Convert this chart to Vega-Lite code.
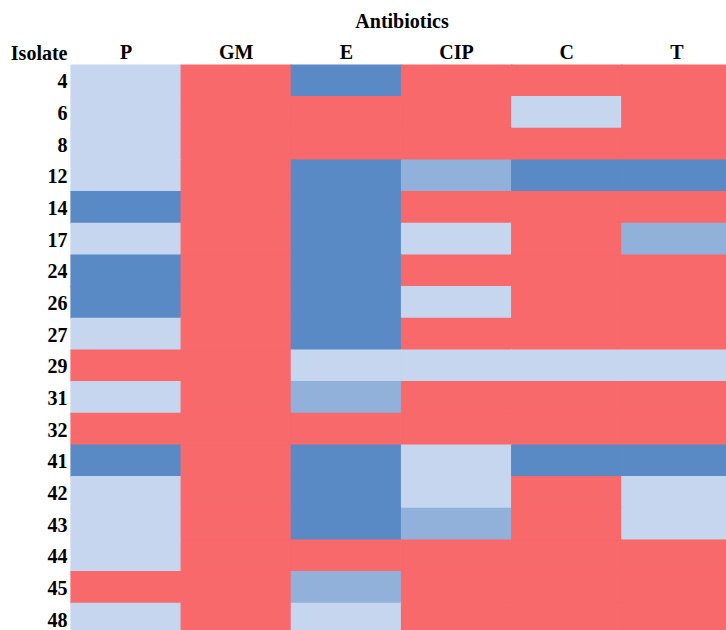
{
  "$schema": "https://vega.github.io/schema/vega-lite/v6.json",
  "width": 661,
  "height": 570,
  "autosize": "none",
  "padding": {"left": 71, "top": 65, "right": 0, "bottom": 0},
  "background": "white",
  "config": {"view": {"stroke": null}, "font": "Liberation Serif"},
  "datasets": {
    "grid": [
      {"isolate": "4", "P": "L", "GM": "R", "E": "D", "CIP": "R", "C": "R", "T": "R"},
      {"isolate": "6", "P": "L", "GM": "R", "E": "R", "CIP": "R", "C": "L", "T": "R"},
      {"isolate": "8", "P": "L", "GM": "R", "E": "R", "CIP": "R", "C": "R", "T": "R"},
      {"isolate": "12", "P": "L", "GM": "R", "E": "D", "CIP": "M", "C": "D", "T": "D"},
      {"isolate": "14", "P": "D", "GM": "R", "E": "D", "CIP": "R", "C": "R", "T": "R"},
      {"isolate": "17", "P": "L", "GM": "R", "E": "D", "CIP": "L", "C": "R", "T": "M"},
      {"isolate": "24", "P": "D", "GM": "R", "E": "D", "CIP": "R", "C": "R", "T": "R"},
      {"isolate": "26", "P": "D", "GM": "R", "E": "D", "CIP": "L", "C": "R", "T": "R"},
      {"isolate": "27", "P": "L", "GM": "R", "E": "D", "CIP": "R", "C": "R", "T": "R"},
      {"isolate": "29", "P": "R", "GM": "R", "E": "L", "CIP": "L", "C": "L", "T": "L"},
      {"isolate": "31", "P": "L", "GM": "R", "E": "M", "CIP": "R", "C": "R", "T": "R"},
      {"isolate": "32", "P": "R", "GM": "R", "E": "R", "CIP": "R", "C": "R", "T": "R"},
      {"isolate": "41", "P": "D", "GM": "R", "E": "D", "CIP": "L", "C": "D", "T": "D"},
      {"isolate": "42", "P": "L", "GM": "R", "E": "D", "CIP": "L", "C": "R", "T": "L"},
      {"isolate": "43", "P": "L", "GM": "R", "E": "D", "CIP": "M", "C": "R", "T": "L"},
      {"isolate": "44", "P": "L", "GM": "R", "E": "R", "CIP": "R", "C": "R", "T": "R"},
      {"isolate": "45", "P": "R", "GM": "R", "E": "M", "CIP": "R", "C": "R", "T": "R"},
      {"isolate": "48", "P": "L", "GM": "R", "E": "L", "CIP": "R", "C": "R", "T": "R"}
    ]
  },
  "data": {"name": "grid"},
  "transform": [
    {"fold": ["P", "GM", "E", "CIP", "C", "T"], "as": ["antibiotic", "level"]}
  ],
  "mark": {"type": "rect", "strokeWidth": 1.2},
  "encoding": {
    "x": {
      "field": "antibiotic",
      "type": "nominal",
      "sort": ["P", "GM", "E", "CIP", "C", "T"],
      "scale": {"paddingInner": 0, "paddingOuter": 0},
      "axis": {
        "orient": "top",
        "title": "Antibiotics",
        "titleFont": "Liberation Serif",
        "titleFontSize": 20,
        "titleFontWeight": "bold",
        "titleColor": "black",
        "titlePadding": 11,
        "labelFont": "Liberation Serif",
        "labelFontSize": 20,
        "labelFontWeight": "bold",
        "labelColor": "black",
        "labelAngle": 0,
        "labelPadding": 3,
        "ticks": false,
        "domain": false
      }
    },
    "y": {
      "field": "isolate",
      "type": "nominal",
      "sort": null,
      "scale": {"paddingInner": 0, "paddingOuter": 0},
      "axis": {
        "title": "Isolate",
        "titleFont": "Liberation Serif",
        "titleFontSize": 20,
        "titleFontWeight": "bold",
        "titleColor": "black",
        "titleAngle": 0,
        "titleAlign": "right",
        "titleBaseline": "alphabetic",
        "titleX": -4,
        "titleY": -6,
        "labelFont": "Liberation Serif",
        "labelFontSize": 20,
        "labelFontWeight": "bold",
        "labelColor": "black",
        "labelPadding": 4,
        "labelOffset": 1.5,
        "ticks": false,
        "domain": false
      }
    },
    "color": {
      "field": "level",
      "type": "nominal",
      "scale": {"domain": ["L", "M", "D", "R"], "range": ["#C6D6EE", "#92B1DA", "#5A8AC6", "#F8696B"]},
      "legend": null
    },
    "stroke": {
      "field": "level",
      "type": "nominal",
      "scale": {"domain": ["L", "M", "D", "R"], "range": ["#C6D6EE", "#92B1DA", "#5A8AC6", "#F8696B"]},
      "legend": null
    }
  }
}
